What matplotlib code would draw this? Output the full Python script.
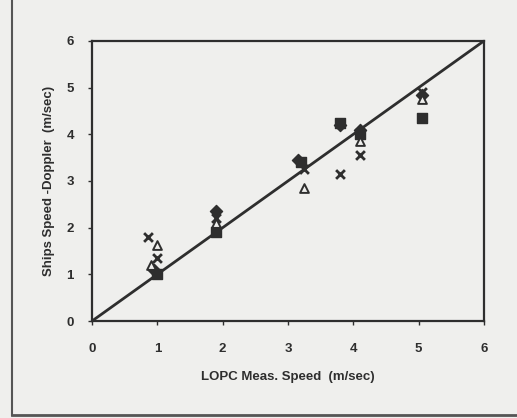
import numpy as np
import matplotlib.pyplot as plt
from matplotlib.lines import Line2D

plt.rcParams['font.family'] = ['Liberation Sans', 'DejaVu Sans']

# LOPC measured speed vs ship doppler speed, four runs
x_dia = [0.95, 1.9, 3.15, 3.8, 4.1, 5.05]
y_dia = [1.1, 2.35, 3.45, 4.2, 4.1, 4.85]
x_sq = [1.0, 1.9, 3.2, 3.8, 4.1, 5.05]
y_sq = [1.0, 1.9, 3.4, 4.25, 4.0, 4.35]
x_tri = [1.0, 0.9, 1.9, 3.25, 4.1, 5.05]
y_tri = [1.62, 1.2, 2.1, 2.85, 3.85, 4.75]
x_x = [0.85, 1.0, 1.9, 3.25, 3.8, 4.1, 5.05]
y_x = [1.8, 1.35, 2.2, 3.25, 3.15, 3.55, 4.9]
line_x = [0, 6]
line_y = [0, 6]

bg = '#efefed'
ink = '#2e2e2e'

fig = plt.figure(figsize=(5.17, 4.18), dpi=100, facecolor=bg)
ax = fig.add_axes([0.178, 0.232, 0.758, 0.670])
ax.set_facecolor(bg)

ax.plot(line_x, line_y, color=ink, lw=2, zorder=2)
ax.scatter(x_dia, y_dia, marker='D', s=38, color=ink, zorder=3)
ax.scatter(x_sq, y_sq, marker='s', s=42, color=ink, zorder=3)
ax.scatter(x_tri, y_tri, marker='^', s=40, facecolor=bg, edgecolor=ink, lw=1.4, zorder=3)
ax.scatter(x_x, y_x, marker='x', s=40, color=ink, lw=2, zorder=3)

ax.set_xlim(0, 6)
ax.set_ylim(0, 6)
ax.set_xticks(range(7))
ax.set_yticks(range(7))
for s in ax.spines.values():
    s.set_color(ink)
    s.set_linewidth(1.6)
ax.tick_params(colors=ink, length=3, width=1, labelsize=9.5)
ax.tick_params(axis='x', pad=13)
ax.tick_params(axis='y', pad=10)
for lab in ax.get_xticklabels() + ax.get_yticklabels():
    lab.set_fontweight('bold')
ax.set_xlabel('LOPC Meas. Speed  (m/sec)', fontsize=9.5, fontweight='bold', color=ink, labelpad=11)
ax.set_ylabel('Ships Speed -Doppler  (m/sec)', fontsize=9.5, fontweight='bold', color=ink, labelpad=8)

# outer frame of the scanned figure (left and bottom edges)
fig.add_artist(Line2D([12 / 517, 12 / 517], [3 / 418, 1], color='#555555', lw=1.5))
fig.add_artist(Line2D([12 / 517, 1], [3 / 418, 3 / 418], color='#555555', lw=2))

fig.savefig('out.png', dpi=100, facecolor=bg)
